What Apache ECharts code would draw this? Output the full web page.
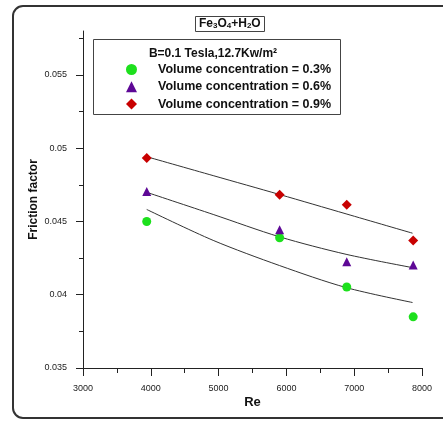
<!DOCTYPE html>
<html><head><meta charset="utf-8">
<script src="https://cdn.jsdelivr.net/npm/echarts@6/dist/echarts.min.js"></script>
<style>html,body{margin:0;padding:0;background:#fff}#c{width:443px;height:421px}</style>
</head><body><div id="c"></div>
<script>
// Measured points
const reValues = [3940, 5900, 6890, 7870];
const ff03 = [0.0450, 0.04389, 0.04053, 0.03849];
const ff06 = [0.04704, 0.04444, 0.04226, 0.04203];
const ff09 = [0.04933, 0.04682, 0.04614, 0.04371];
// Fit curves
const fitRe = [3940, 4920, 5900, 6880, 7860];
const fit03 = [0.04582, 0.04371, 0.04199, 0.04049, 0.03947];
const fit06 = [0.04699, 0.04548, 0.04395, 0.04276, 0.04185];
const fit09 = [0.04942, 0.04813, 0.04684, 0.04552, 0.04420];
const seriesNames = ['Volume concentration = 0.3%', 'Volume concentration = 0.6%', 'Volume concentration = 0.9%'];
const yMajorTicks = [0.035, 0.04, 0.045, 0.05, 0.055];
const yMinorTicks = [0.0375, 0.0425, 0.0475, 0.0525, 0.0575];
const legendHeading = 'B=0.1 Tesla,12.7Kw/m\u00B2';

const FONT = 'Arial, "Liberation Sans", sans-serif';
const pair = (xs, ys) => xs.map((x, i) => [x, ys[i]]);
const chart = echarts.init(document.getElementById('c'), null, {renderer: 'canvas'});

const fitLine = (data) => ({
  type: 'line', data, showSymbol: false, symbol: 'none', smooth: 0.3, silent: true,
  lineStyle: {color: '#333', width: 1}, z: 2
});

chart.setOption({
  animation: false,
  backgroundColor: '#fff',
  textStyle: {fontFamily: FONT},
  title: {
    text: '{b|Fe}{s|3}{b|O}{s|4}{b|+H}{s|2}{b|O}',
    left: 195, top: 12,
    padding: [2, 4, 2, 4],
    borderColor: '#444', borderWidth: 1,
    textStyle: {
      rich: {
        b: {fontSize: 12, fontWeight: 'bold', fontFamily: FONT, color: '#111', lineHeight: 16, verticalAlign: 'bottom'},
        s: {fontSize: 8, fontWeight: 'bold', fontFamily: FONT, color: '#111', lineHeight: 12, verticalAlign: 'bottom'}
      }
    }
  },
  legend: {
    data: seriesNames,
    orient: 'vertical',
    left: 121, top: 58,
    itemWidth: 11, itemHeight: 11, itemGap: 4.3,
    textStyle: {fontSize: 12.5, fontWeight: 'bold', color: '#111', fontFamily: FONT, padding: [0, 0, 0, 16]},
    selectedMode: false
  },
  graphic: [
    {type: 'rect', shape: {x: 13, y: 6, width: 470, height: 412, r: 10}, style: {fill: 'none', stroke: '#333', lineWidth: 2}, silent: true},
    {type: 'rect', shape: {x: 93.5, y: 39.5, width: 247, height: 75}, style: {fill: 'none', stroke: '#444', lineWidth: 1}, silent: true},
    {type: 'text', x: 213, y: 54, style: {text: legendHeading, font: 'bold 12px ' + FONT, fill: '#111', textAlign: 'center', textVerticalAlign: 'middle'}, silent: true}
  ],
  grid: {left: 83, right: 21, top: 31, bottom: 53, containLabel: false, outerBoundsMode: 'none'},
  xAxis: {
    type: 'value', min: 3000, max: 8000, interval: 1000,
    name: 'Re', nameLocation: 'middle', nameGap: 28, nameMoveOverlap: false,
    nameTextStyle: {fontSize: 13, fontWeight: 'bold', color: '#111', fontFamily: FONT},
    axisLine: {show: true, lineStyle: {color: '#222', width: 1}},
    axisTick: {show: true, length: 8, lineStyle: {color: '#222'}},
    minorTick: {show: true, splitNumber: 2, length: 5, lineStyle: {color: '#222'}},
    axisLabel: {fontSize: 9, color: '#222', margin: 16, fontFamily: FONT, formatter: v => String(v)},
    splitLine: {show: false}
  },
  yAxis: [{
    type: 'value', min: 0.035, max: 0.058,
    name: 'Friction factor', nameLocation: 'middle', nameGap: 43, nameRotate: 90, nameMoveOverlap: false,
    nameTextStyle: {fontSize: 12, fontWeight: 'bold', color: '#111', fontFamily: FONT},
    axisLine: {show: true, lineStyle: {color: '#222', width: 1}},
    axisTick: {show: true, length: 7, customValues: yMajorTicks, lineStyle: {color: '#222'}},
    axisLabel: {fontSize: 9, color: '#222', margin: 16, customValues: yMajorTicks, fontFamily: FONT,
      formatter: v => String(+(+v).toFixed(4))},
    splitLine: {show: false}
  }, {
    type: 'value', min: 0.035, max: 0.058, position: 'left',
    axisLine: {show: false},
    axisTick: {show: true, length: 4, customValues: yMinorTicks, lineStyle: {color: '#222'}},
    axisLabel: {show: false},
    splitLine: {show: false}
  }],
  series: [
    fitLine(pair(fitRe, fit03)),
    fitLine(pair(fitRe, fit06)),
    fitLine(pair(fitRe, fit09)),
    {name: seriesNames[0], type: 'scatter', data: pair(reValues, ff03), symbol: 'circle', symbolSize: 9,
      itemStyle: {color: '#1de01d', opacity: 1}, z: 5},
    {name: seriesNames[1], type: 'scatter', data: pair(reValues, ff06), symbol: 'triangle', symbolSize: 9,
      itemStyle: {color: '#5e0896', opacity: 1}, z: 5},
    {name: seriesNames[2], type: 'scatter', data: pair(reValues, ff09), symbol: 'diamond', symbolSize: 10,
      itemStyle: {color: '#c80000', opacity: 1}, z: 5}
  ]
});
</script>
</body></html>
